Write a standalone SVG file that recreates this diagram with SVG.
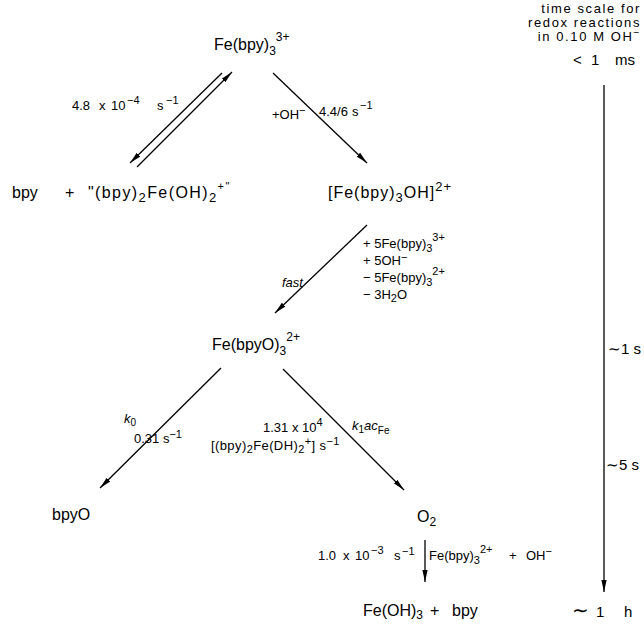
<svg xmlns="http://www.w3.org/2000/svg" width="644" height="626" viewBox="0 0 644 626">
<style>
text{font-family:"Liberation Sans",Arial,sans-serif;fill:#000}
.b{font-size:16px}
.s{font-size:13px}
.h{font-size:13px;letter-spacing:1.6px}
.c{stroke:#000;stroke-width:1.3;fill:none}
</style>
<defs>
<marker id="ah" markerWidth="13" markerHeight="8" refX="12" refY="4" orient="auto" markerUnits="userSpaceOnUse">
<path d="M0,1.4 L12,4 L0,6.6 Z" fill="#000"/>
</marker>
</defs>
<rect width="644" height="626" fill="#fff"/>
<g id="connectors">
<line class="c" x1="222" y1="73" x2="130" y2="163" marker-end="url(#ah)"/>
<line class="c" x1="137" y1="167" x2="232" y2="72" marker-end="url(#ah)"/>
<line class="c" x1="273" y1="73" x2="367" y2="163" marker-end="url(#ah)"/>
<line class="c" x1="367" y1="225" x2="275" y2="313" marker-end="url(#ah)"/>
<line class="c" x1="221" y1="368" x2="100" y2="488" marker-end="url(#ah)"/>
<line class="c" x1="283" y1="369" x2="404" y2="490" marker-end="url(#ah)"/>
<line class="c" x1="425" y1="540" x2="425" y2="582" marker-end="url(#ah)"/>
<line class="c" x1="604" y1="85" x2="604" y2="592" marker-end="url(#ah)"/>
</g>
<g id="n-febpy3">
<text class="b" x="214" y="50">Fe(bpy)<tspan dy="5" font-size="12">3</tspan><tspan dy="-14" font-size="12">3+</tspan></text>
</g>
<g id="n-bpy-complex">
<text class="b" x="12" y="198">bpy</text>
<text class="b" x="65" y="198" font-size="17">+</text>
<text class="b" x="88" y="198" font-size="17" letter-spacing="1.4">"(bpy)<tspan dy="4" font-size="13">2</tspan><tspan dy="-4">Fe(OH)</tspan><tspan dy="4" font-size="13">2</tspan><tspan dy="-12" font-size="11">+"</tspan></text>
</g>
<g id="n-febpy3oh">
<text class="b" x="328" y="198" letter-spacing="1">[Fe(bpy)<tspan dy="4" font-size="13">3</tspan><tspan dy="-4">OH]</tspan><tspan dy="-7" font-size="13">2+</tspan></text>
</g>
<g id="n-febpyo3">
<text class="b" x="212" y="350">Fe(bpyO)<tspan dy="5" font-size="12">3</tspan><tspan dy="-14" font-size="12">2+</tspan></text>
</g>
<g id="n-bpyo"><text class="b" x="52" y="520">bpyO</text></g>
<g id="n-o2"><text class="b" x="417" y="522">O<tspan dy="4" font-size="12">2</tspan></text></g>
<g id="n-feoh3">
<text class="b" x="363" y="616" font-size="15">Fe(OH)<tspan dy="3" font-size="12">3</tspan><tspan x="430" dy="-3">+</tspan><tspan x="452">bpy</tspan></text>
</g>
<g id="labels">
<text class="s" x="72" y="110">4.8<tspan x="99">x</tspan><tspan x="111">10</tspan><tspan x="127" dy="-6" font-size="11">−4</tspan><tspan x="157" dy="6">s</tspan><tspan x="166" dy="-6" font-size="11">−1</tspan></text>
<text class="s" x="272" y="119">+OH<tspan dy="-5" font-size="11">−</tspan></text>
<text class="s" x="319" y="116">4.4/6<tspan x="352">s</tspan><tspan x="360" dy="-7" font-size="11">−1</tspan></text>
<text class="s" x="282" y="287" font-style="italic" font-size="11">fast</text>
<text class="s" x="363" y="248">+ 5Fe(bpy)<tspan dy="4" font-size="11">3</tspan><tspan dy="-11" font-size="11">3+</tspan></text>
<text class="s" x="363" y="265">+ 5OH<tspan dy="-4" font-size="11">−</tspan></text>
<text class="s" x="363" y="282">− 5Fe(bpy)<tspan dy="4" font-size="11">3</tspan><tspan dy="-11" font-size="11">2+</tspan></text>
<text class="s" x="363" y="299">− 3H<tspan dy="3" font-size="11">2</tspan><tspan dy="-3">O</tspan></text>
<text class="s" x="124" y="423" font-style="italic">k<tspan dy="3" font-size="10" font-style="normal">0</tspan></text>
<text class="s" x="134" y="443">0.31 s<tspan dy="-5" font-size="11">−1</tspan></text>
<text class="s" x="263" y="432">1.31 x 10<tspan dy="-6" font-size="11">4</tspan></text>
<text class="s" x="211" y="450" letter-spacing="0.4">[(bpy)<tspan dy="3" font-size="11">2</tspan><tspan dy="-3">Fe(DH)</tspan><tspan dy="3" font-size="11">2</tspan><tspan dy="-8" font-size="11">+</tspan><tspan dy="5">] s</tspan><tspan dy="-5" font-size="11">−1</tspan></text>
<text class="s" x="352" y="430"><tspan font-style="italic">k</tspan><tspan dy="3" font-size="10">1</tspan><tspan dy="-3" font-style="italic">ac</tspan><tspan dy="4" font-size="10">Fe</tspan></text>
<text class="s" x="318" y="560">1.0<tspan x="343">x</tspan><tspan x="355">10</tspan><tspan x="371" dy="-6" font-size="11">−3</tspan><tspan x="394" dy="6">s</tspan><tspan x="402" dy="-5" font-size="11">−1</tspan></text>
<text class="s" x="429" y="560">Fe(bpy)<tspan dy="4" font-size="11">3</tspan><tspan dy="-11" font-size="11">2+</tspan><tspan x="509" dy="7">+</tspan><tspan x="526">OH</tspan><tspan dy="-5" font-size="11">−</tspan></text>
</g>
<g id="timescale">
<text class="h" x="641" y="13" text-anchor="end">time scale for</text>
<text class="h" x="641" y="27" text-anchor="end">redox reactions</text>
<text class="h" x="641" y="41" text-anchor="end">in 0.10 M OH<tspan dy="-5" font-size="10">−</tspan></text>
<text font-size="15" y="65"><tspan x="573">&lt;</tspan><tspan x="591">1</tspan><tspan x="615">ms</tspan></text>
<text font-size="15" x="608" y="354">∼1 s</text>
<text font-size="15" x="606" y="470">∼5 s</text>
<text font-size="15" y="617"><tspan x="572" font-size="20">∼</tspan><tspan x="596">1</tspan><tspan x="624">h</tspan></text>
</g>
</svg>
